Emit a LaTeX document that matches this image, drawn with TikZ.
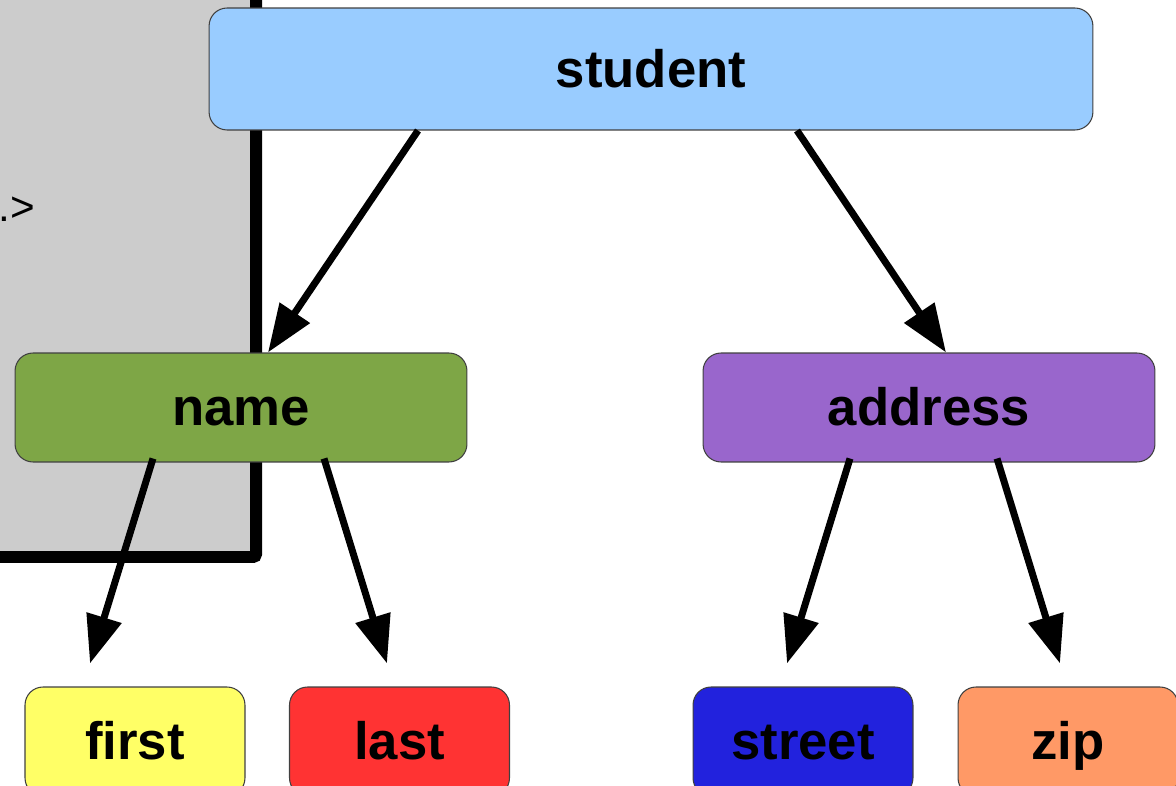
\documentclass[tikz,border=0pt]{standalone}
\usepackage{fontspec}
\setmainfont{Liberation Sans}
\usetikzlibrary{arrows.meta,calc}
\definecolor{panelgray}{HTML}{CCCCCC}
\definecolor{studentblue}{HTML}{99CCFF}
\definecolor{namegreen}{HTML}{7EA646}
\definecolor{addresspurple}{HTML}{9966CC}
\definecolor{firstyellow}{HTML}{FFFF66}
\definecolor{lastred}{HTML}{FF3333}
\definecolor{streetblue}{HTML}{2222DD}
\definecolor{ziporange}{HTML}{FF9966}
\begin{document}
\begin{tikzpicture}[x=0.02cm,y=-0.02cm,
	box/.style={draw=black!75,line width=0.6pt,rounded corners=0.36cm,inner sep=0pt,
		minimum height=2.18cm,text height=21pt,text depth=0pt,
		font=\fontsize{30}{36}\selectfont\bfseries},
	link/.style={line width=0.14cm,-{Triangle[length=0.96cm,width=0.7cm]}}]
			\useasboundingbox (0,0) rectangle (1176,786);
			\clip (0,0) rectangle (1176,786);
			\draw[line width=0.24cm,fill=panelgray,rounded corners=0.06cm] (-60,-60) rectangle (256,557);
			\node[anchor=base west,inner sep=0pt,font=\fontsize{24}{28}\selectfont] (tag) at (-2,222) {.>};
			\node[box,fill=studentblue,minimum width=17.68cm,minimum height=2.44cm] (student) at (651,69) {student};
			\node[box,fill=namegreen,minimum width=9.04cm] (name) at (241,407.5) {name};
			\node[box,fill=addresspurple,minimum width=9.04cm] (address) at (929,407.5) {address};
			\node[box,fill=firstyellow,minimum width=4.4cm] (first) at (135,741.5) {first};
			\node[box,fill=lastred,minimum width=4.4cm] (last) at (399.5,741.5) {last};
			\node[box,fill=streetblue,minimum width=4.4cm] (street) at (803,741.5) {street};
			\node[box,fill=ziporange,minimum width=4.4cm] (zip) at (1068,741.5) {zip};
			\draw[link] ($(student.south)+(-233,0)$) -- ($(name.north)+(27,0)$);
			\draw[link] ($(student.south)+(146,0)$) -- ($(address.north)+(17,0)$);
			\draw[link] ($(name.south)+(-88,-4)$) -- ($(first.north)+(-45,-23)$);
			\draw[link] ($(name.south)+(83,-4)$) -- ($(last.north)+(-12.5,-23)$);
			\draw[link] ($(address.south)+(-79,-4)$) -- ($(street.north)+(-16,-23)$);
			\draw[link] ($(address.south)+(68,-4)$) -- ($(zip.north)+(-8,-23)$);
		\end{tikzpicture}
\end{document}
